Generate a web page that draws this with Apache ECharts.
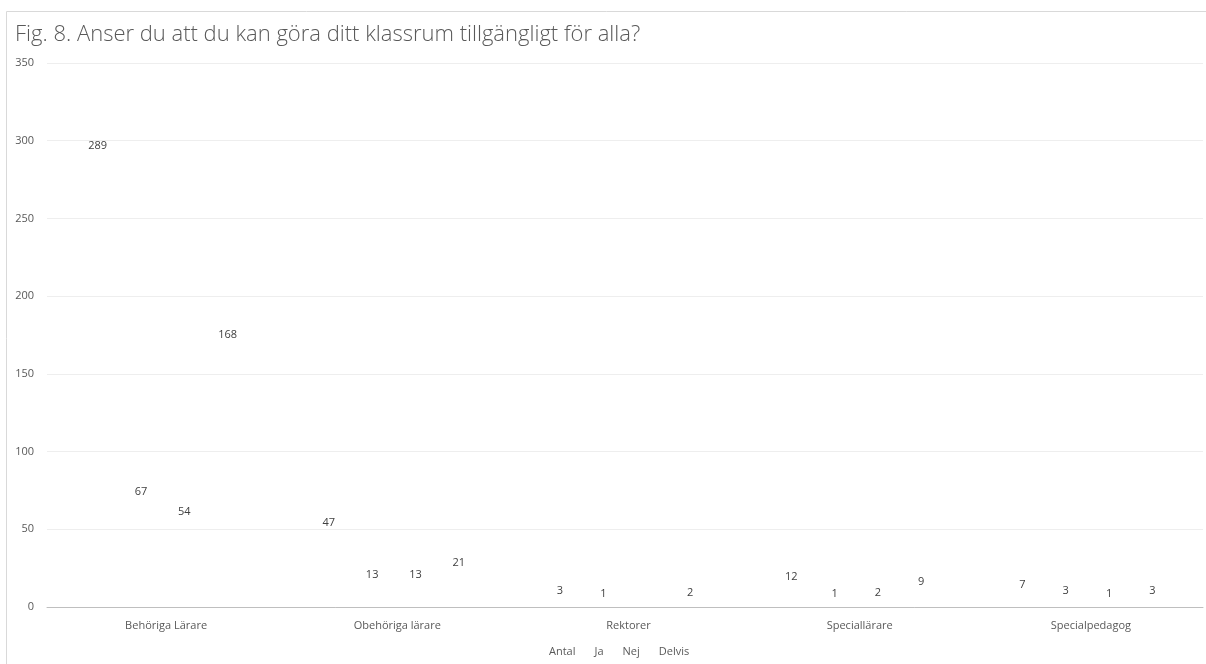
<!DOCTYPE html>
<html>
<head>
<meta charset="utf-8">
<script src="https://cdn.jsdelivr.net/npm/echarts@6/dist/echarts.min.js"></script>
<style>
  html, body { margin: 0; padding: 0; background: #fff; }
  #chart { width: 1206px; height: 664px; }
</style>
</head>
<body>
<div id="chart"></div>
<script>
var categories = ["Behöriga Lärare", "Obehöriga lärare", "Rektorer", "Speciallärare", "Specialpedagog"];
var seriesNames = ["Antal", "Ja", "Nej", "Delvis"];
var antal = [289, 47, 3, 12, 7];
var ja = [67, 13, 1, 1, 3];
var nej = [54, 13, 0, 2, 1];
var delvis = [168, 21, 2, 9, 3];
var yTicks = [0, 50, 100, 150, 200, 250, 300, 350];

var chart = echarts.init(document.getElementById("chart"));
var font = "'Open Sans', sans-serif";
var values = [antal, ja, nej, delvis];

// bars are drawn transparent, only their value labels show (as in the source)
var series = seriesNames.map(function (name, i) {
    return {
        name: name,
        type: "bar",
        data: values[i].map(function (v) { return v === 0 ? null : v; }),
        barGap: "0%",
        barCategoryGap: "25%",
        itemStyle: { color: "rgba(0,0,0,0)" },
        label: { show: true, position: "top", color: "#404040", fontSize: 11, fontFamily: font, distance: 6 }
    };
});

var option = {
    animation: false,
    title: {
        text: "Fig. 8. Anser du att du kan göra ditt klassrum tillgängligt för alla?",
        left: 10, top: 19,
        textStyle: { color: "#595959", fontSize: 22, fontWeight: 300, fontFamily: font }
    },
    graphic: [{
        type: "rect",
        shape: { x: 6.5, y: 11.5, width: 1210, height: 700 },
        style: { fill: "none", stroke: "#d9d9d9", lineWidth: 1 },
        silent: true
    }],
    legend: {
        data: seriesNames,
        bottom: 2,
        left: 539,
        itemWidth: 0, itemHeight: 0, itemGap: 14,
        icon: "rect",
        textStyle: { color: "#595959", fontSize: 11, fontFamily: font }
    },
    grid: { left: 47, right: 3, top: 63, bottom: 57 },
    xAxis: {
        type: "category",
        data: categories,
        axisLine: { lineStyle: { color: "#bfbfbf" } },
        axisTick: { show: false },
        axisLabel: { color: "#595959", fontSize: 11, fontFamily: font, margin: 13, padding: [0, 0, 0, 7] }
    },
    yAxis: {
        type: "value",
        min: yTicks[0], max: yTicks[yTicks.length - 1], interval: 50,
        axisLine: { show: false },
        axisTick: { show: false },
        splitLine: { lineStyle: { color: "#eeeeee" } },
        axisLabel: { color: "#595959", fontSize: 11, fontFamily: font, margin: 13 }
    },
    series: series
};
chart.setOption(option);
window.addEventListener("resize", function () { chart.resize(); });
</script>
</body>
</html>
